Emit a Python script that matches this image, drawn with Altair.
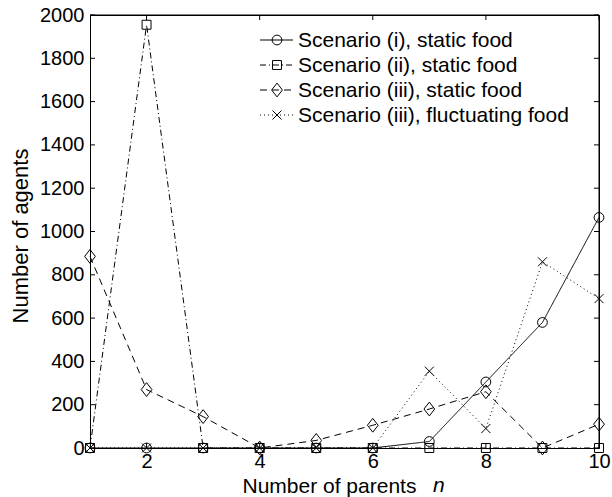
import altair as alt
import pandas as pd

# ---- data ----
n_parents = [1, 2, 3, 4, 5, 6, 7, 8, 9, 10]
series_names = [
    "Scenario (i), static food",
    "Scenario (ii), static food",
    "Scenario (iii), static food",
    "Scenario (iii), fluctuating food",
]
scen_i_static = [0, 0, 0, 0, 0, 0, 30, 305, 580, 1065]
scen_ii_static = [0, 1955, 0, 0, 0, 0, 0, 0, 0, 0]
scen_iii_static = [885, 270, 145, 0, 35, 105, 180, 260, 0, 110]
scen_iii_fluct = [0, 0, 0, 0, 0, 0, 355, 90, 860, 690]
x_tick_values = [2, 4, 6, 8, 10]
y_tick_values = [0, 200, 400, 600, 800, 1000, 1200, 1400, 1600, 1800, 2000]

rows = []
for name, vals in zip(series_names, [scen_i_static, scen_ii_static, scen_iii_static, scen_iii_fluct]):
    for xv, yv in zip(n_parents, vals):
        rows.append({"series": name, "n": xv, "agents": yv})
df = pd.DataFrame(rows)

# ---- layout / style ----
W, H = 509, 433
FONT = "Liberation Sans"
DIAMOND = "M0,-1L0.78,0L0,1L-0.78,0Z"
XMARK = "M-1,-1L1,1M-1,1L1,-1"
dashes = [[1, 0], [6, 3, 1, 3], [7, 5], [1, 3]]
shapes = ["circle", "square", DIAMOND, XMARK]
sizes = [95, 80, 190, 81]
XTITLE_Y = 44
XTITLE_FS = 21

dash_scale = alt.Scale(domain=series_names, range=dashes)
xscale = alt.Scale(domain=[1, 10], nice=False, zero=False)
yscale = alt.Scale(domain=[0, 2000], nice=False)

x_axis = alt.Axis(
    values=x_tick_values, format="d", ticks=False, grid=False,
    domain=True, domainColor="black", domainWidth=1,
    labelFontSize=20, labelPadding=3, labelFlush=False, labelColor="black",
    labelFont=FONT,
    title="Number of parents", titleFontSize=XTITLE_FS, titleFontWeight="normal",
    titleFont=FONT, titleColor="black",
    titleX=152, titleY=XTITLE_Y, titleAlign="left", titleBaseline="alphabetic",
)
y_axis = alt.Axis(
    values=y_tick_values, format="d", ticks=False, grid=False,
    domain=True, domainColor="black", domainWidth=1,
    labelFontSize=20, labelPadding=6, labelColor="black", labelFont=FONT,
    title="Number of agents", titleFontSize=22, titleFontWeight="normal",
    titleFont=FONT, titleColor="black",
    titleX=-63, titleY=H / 2 + 4, titleAlign="center", titleBaseline="alphabetic",
    titleAngle=270,
)

base = alt.Chart(df)
lines = base.mark_line(color="black", strokeWidth=1).encode(
    x=alt.X("n:Q", scale=xscale, axis=x_axis),
    y=alt.Y("agents:Q", scale=yscale, axis=y_axis),
    strokeDash=alt.StrokeDash("series:N", scale=dash_scale, legend=None),
)

point_layers = []
for name, shp, sz in zip(series_names, shapes, sizes):
    point_layers.append(
        base.transform_filter(alt.datum.series == name)
        .mark_point(filled=False, color="black", strokeWidth=1, opacity=1, shape=shp, size=sz)
        .encode(x=alt.X("n:Q"), y=alt.Y("agents:Q"))
    )

# inward tick marks on all four sides (MATLAB style)
xt = alt.Chart(pd.DataFrame({"n": x_tick_values}))
yt = alt.Chart(pd.DataFrame({"agents": y_tick_values}))
TL = 5
tick_b = xt.mark_rule(color="black", strokeWidth=1).encode(
    x=alt.X("n:Q"), y=alt.value(H), y2=alt.value(H - TL))
tick_t = xt.mark_rule(color="black", strokeWidth=1).encode(
    x=alt.X("n:Q"), y=alt.value(0), y2=alt.value(TL))
tick_l = yt.mark_rule(color="black", strokeWidth=1).encode(
    y=alt.Y("agents:Q"), x=alt.value(0), x2=alt.value(TL))
tick_r = yt.mark_rule(color="black", strokeWidth=1).encode(
    y=alt.Y("agents:Q"), x=alt.value(W), x2=alt.value(W - TL))

# top and right edges of the box
frame_df = alt.Chart(pd.DataFrame({"edge": ["top"]}))
frame_top = frame_df.mark_rule(color="black", strokeWidth=1).encode(
    x=alt.value(0), x2=alt.value(W), y=alt.value(0))
frame_right = frame_df.mark_rule(color="black", strokeWidth=1).encode(
    x=alt.value(W), y=alt.value(0), y2=alt.value(H))

# manual legend (pixel layout, top-right inside the plot)
LEG_X1, LEG_X2, LEG_XM, LEG_XT = 170, 203, 187, 208
LEG_Y0, LEG_DY = 25, 25
legend_layers = []
for i, (name, dsh, shp, sz) in enumerate(zip(series_names, dashes, shapes, sizes)):
    ly = LEG_Y0 + i * LEG_DY
    lc = alt.Chart(pd.DataFrame({"series": [name]}))
    legend_layers.append(
        lc.mark_rule(color="black", strokeWidth=1, strokeDash=dsh).encode(
            x=alt.value(LEG_X1), x2=alt.value(LEG_X2), y=alt.value(ly)))
    legend_layers.append(
        lc.mark_point(filled=False, color="black", strokeWidth=1, opacity=1, shape=shp, size=sz).encode(
            x=alt.value(LEG_XM), y=alt.value(ly)))
    legend_layers.append(
        lc.mark_text(align="left", baseline="alphabetic", fontSize=21, font=FONT, color="black").encode(
            x=alt.value(LEG_XT), y=alt.value(ly + 7), text="series:N"))

# italic "n" after the x-axis title
n_label = alt.Chart(pd.DataFrame({"t": ["n"]})).mark_text(
    fontStyle="italic", fontSize=XTITLE_FS, font=FONT, align="left",
    baseline="alphabetic", color="black").encode(
    x=alt.value(343), y=alt.value(H + XTITLE_Y), text="t:N")

chart = alt.layer(
    lines, *point_layers, tick_b, tick_t, tick_l, tick_r, frame_top, frame_right,
    *legend_layers, n_label
).properties(
    width=W, height=H,
    autosize=alt.AutoSizeParams(type="none"),
    padding={"left": 90, "top": 15, "right": 13, "bottom": 49},
    background="white",
).configure_view(
    stroke="black", strokeWidth=1
)

chart.save("out.html", embed_options={"renderer": "svg", "actions": False})
